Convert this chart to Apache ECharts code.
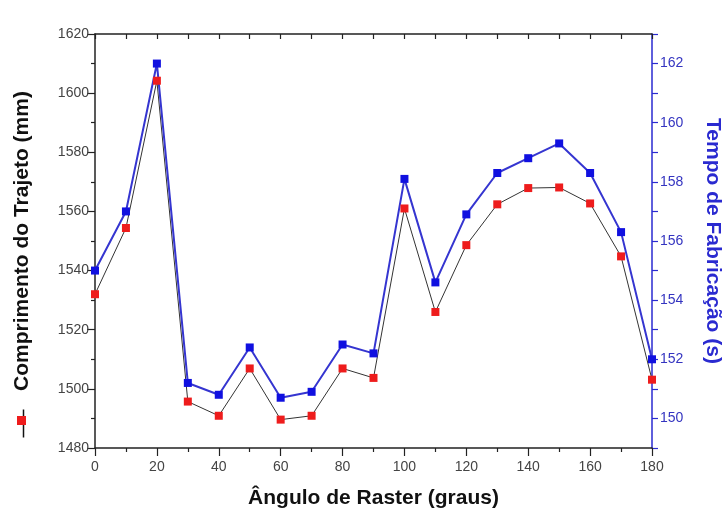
<!DOCTYPE html>
<html>
<head>
<meta charset="utf-8">
<script src="https://cdn.jsdelivr.net/npm/echarts@6/dist/echarts.min.js"></script>
<style>
  html, body { margin: 0; padding: 0; background: #fff; }
  #chart { width: 726px; height: 511px; }
</style>
</head>
<body>
<div id="chart"></div>
<script>
// angulo de raster (graus)
const angles = [0, 10, 20, 30, 40, 50, 60, 70, 80, 90, 100, 110, 120, 130, 140, 150, 160, 170, 180];
// comprimento do trajeto (mm) - eixo esquerdo
const trajeto = [1532, 1554.4, 1604.2, 1495.7, 1490.9, 1506.9, 1489.6, 1490.9, 1506.9, 1503.7,
  1561, 1526, 1548.6, 1562.4, 1567.9, 1568.1, 1562.7, 1544.8, 1503.1];
// tempo de fabricacao (s) - eixo direito
const tempo = [155, 157, 162, 151.2, 150.8, 152.4, 150.7, 150.9, 152.5, 152.2,
  158.1, 154.6, 156.9, 158.3, 158.8, 159.3, 158.3, 156.3, 152];
const tempoLabels = [150, 152, 154, 156, 158, 160, 162];

const font = 'Liberation Sans, Arial, sans-serif';
const blue = '#2a2ad0';

const chart = echarts.init(document.getElementById('chart'));

const option = {
  animation: false,
  grid: { left: 95, right: 74, top: 34, bottom: 63, outerBoundsMode: 'none', containLabel: false },
  xAxis: [{
    type: 'value', min: 0, max: 180, interval: 20,
    name: 'Ângulo de Raster (graus)', nameLocation: 'middle', nameGap: 40,
    nameTextStyle: { fontFamily: font, fontSize: 21, fontWeight: 'bold', color: '#111' },
    axisLine: { onZero: false, lineStyle: { color: '#222', width: 1.5 } },
    axisTick: { length: 8, lineStyle: { color: '#222', width: 1.2 } },
    minorTick: { show: true, splitNumber: 2, length: 4, lineStyle: { color: '#222', width: 1.2 } },
    axisLabel: { fontFamily: font, fontSize: 14, color: '#444', margin: 12 },
    splitLine: { show: false }
  }, {
    type: 'value', min: 0, max: 180, interval: 10, position: 'top',
    axisLine: { onZero: false, lineStyle: { color: '#222', width: 1.5 } },
    axisTick: { inside: true, length: 5, lineStyle: { color: '#222', width: 1.2 } },
    axisLabel: { show: false },
    splitLine: { show: false }
  }],
  yAxis: [{
    type: 'value', min: 1480, max: 1620, interval: 20, position: 'left',
    name: 'Comprimento do Trajeto (mm)', nameLocation: 'middle', nameGap: 62,
    nameTextStyle: { fontFamily: font, fontSize: 21, fontWeight: 'bold', color: '#111' },
    axisLine: { show: true, onZero: false, lineStyle: { color: '#222', width: 1.5 } },
    axisTick: { length: 8, lineStyle: { color: '#222', width: 1.2 } },
    minorTick: { show: true, splitNumber: 2, length: 4, lineStyle: { color: '#222', width: 1.2 } },
    axisLabel: { fontFamily: font, fontSize: 14, color: '#444', margin: 6, formatter: v => String(v) },
    splitLine: { show: false }
  }, {
    type: 'value', min: 149, max: 163, interval: 1, position: 'right',
    name: 'Tempo de Fabricação (s)', nameLocation: 'middle', nameGap: 50, nameRotate: -90,
    nameTextStyle: { fontFamily: font, fontSize: 21, fontWeight: 'bold', color: blue },
    axisLine: { show: true, onZero: false, lineStyle: { color: blue, width: 1.5 } },
    axisTick: { length: 6, lineStyle: { color: blue, width: 1.2 } },
    axisLabel: { fontFamily: font, fontSize: 14, color: '#3434c0', margin: 8, customValues: tempoLabels },
    splitLine: { show: false }
  }],
  graphic: [{
    type: 'line', left: 21, top: 407,
    shape: { x1: 0, y1: 0, x2: 0, y2: 28 },
    style: { stroke: '#111', lineWidth: 1.5 }
  }, {
    type: 'rect', left: 17, top: 416,
    shape: { width: 9, height: 9 },
    style: { fill: '#ee1c1c' }
  }],
  series: [{
    type: 'line', xAxisIndex: 0, yAxisIndex: 0,
    data: angles.map((a, i) => [a, trajeto[i]]),
    symbol: 'rect', symbolSize: 8,
    lineStyle: { color: '#333', width: 1 },
    itemStyle: { color: '#ee1c1c' }
  }, {
    type: 'line', xAxisIndex: 0, yAxisIndex: 1,
    data: angles.map((a, i) => [a, tempo[i]]),
    symbol: 'rect', symbolSize: 8,
    lineStyle: { color: '#3535d0', width: 2 },
    itemStyle: { color: '#1010e0' }
  }]
};

chart.setOption(option);
</script>
</body>
</html>
